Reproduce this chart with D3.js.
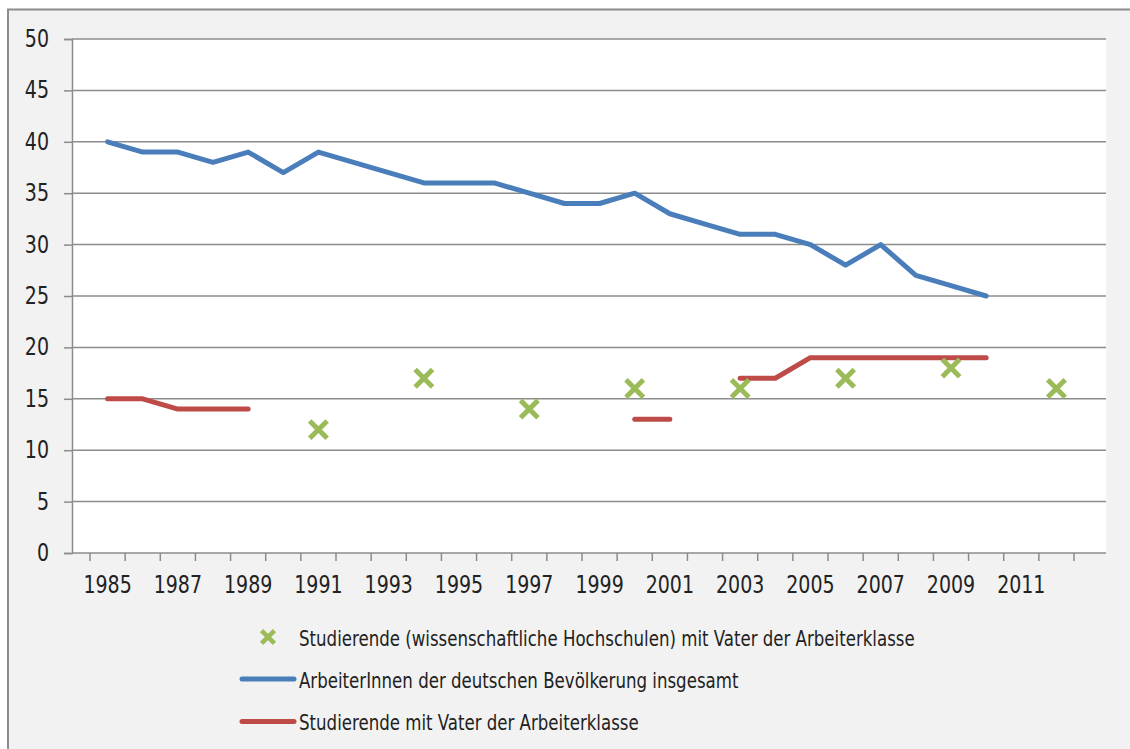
<!DOCTYPE html>
<html>
<head>
<meta charset="utf-8">
<script src="https://cdn.jsdelivr.net/npm/d3@7"></script>
<style>
    body { margin: 0; background: #fff; }
    svg { display: block; }
    text { font-family: "Liberation Sans Narrow", "DejaVu Sans Condensed", sans-serif; fill: #222; }
</style>
</head>
<body>
<svg id="chart"></svg>
<script>
const width = 1130;
const height = 749;

// years on the category axis
const years = d3.range(1985, 2013);

// ArbeiterInnen der deutschen Bevölkerung insgesamt
const workerYears = d3.range(1985, 2011);
const workerValues = [40, 39, 39, 38, 39, 37, 39, 38, 37, 36, 36, 36, 35, 34, 34, 35, 33, 32, 31, 31, 30, 28, 30, 27, 26, 25];

// Studierende mit Vater der Arbeiterklasse (gaps where no data)
const studentYears = [1985, 1986, 1987, 1988, 1989, 2000, 2001, 2003, 2004, 2005, 2006, 2007, 2008, 2009, 2010];
const studentValues = [15, 15, 14, 14, 14, 13, 13, 17, 17, 19, 19, 19, 19, 19, 19];

// Studierende (wissenschaftliche Hochschulen) mit Vater der Arbeiterklasse
const uniYears = [1991, 1994, 1997, 2000, 2003, 2006, 2009, 2012];
const uniValues = [12, 17, 14, 16, 16, 17, 18, 16];

const yTicks = [0, 5, 10, 15, 20, 25, 30, 35, 40, 45, 50];
const legendLabels = [
    "Studierende (wissenschaftliche Hochschulen) mit Vater der Arbeiterklasse",
    "ArbeiterInnen der deutschen Bevölkerung insgesamt",
    "Studierende mit Vater der Arbeiterklasse"
];

const blue = "#4a7ebb";
const red = "#be4b48";
const green = "#9bbb59";
const grey = "#8c8c8c";

const plot = {left: 72, right: 1106, top: 39, bottom: 553};
const squeeze = 0.88; // condensed look of the original font

const svg = d3.select("#chart").attr("width", width).attr("height", height);

// outer panel
svg.append("rect")
    .attr("x", 8).attr("y", 9.5)
    .attr("width", width + 20).attr("height", height + 20)
    .attr("fill", "#f2f2f2")
    .attr("stroke", grey)
    .attr("stroke-width", 2);

svg.append("rect")
    .attr("x", plot.left).attr("y", plot.top)
    .attr("width", plot.right - plot.left).attr("height", plot.bottom - plot.top)
    .attr("fill", "#fff");

const xScale = d3.scaleBand().domain(years).range([90, 1074]).padding(0);
const xCenter = function (year) {
    return xScale(year) + xScale.bandwidth() / 2;
};
const yScale = d3.scaleLinear().domain([0, 50]).range([plot.bottom, plot.top]);

function placeText(x, y) {
    return "translate(" + x + "," + y + ") scale(" + squeeze + ",1)";
}

// grid lines
svg.append("g").selectAll("line").data(yTicks.filter(d => d > 0)).enter()
    .append("line")
    .attr("x1", plot.left).attr("x2", plot.right)
    .attr("y1", d => yScale(d)).attr("y2", d => yScale(d))
    .attr("stroke", grey)
    .attr("stroke-width", 1.5);

// y axis
const yAxis = svg.append("g")
    .attr("transform", "translate(" + plot.left + ",0)")
    .call(d3.axisLeft(yScale).tickValues(yTicks).tickSize(8).tickFormat(""));
yAxis.select(".domain").attr("stroke", grey).attr("stroke-width", 1.5);
yAxis.selectAll(".tick line").attr("stroke", grey).attr("stroke-width", 1.5);

svg.append("g").selectAll("text").data(yTicks).enter()
    .append("text")
    .attr("transform", d => placeText(49, yScale(d) + 8))
    .attr("text-anchor", "end")
    .attr("font-size", 24)
    .text(d => d);

// x axis: ticks between categories, labels every second year
const xAxisG = svg.append("g").attr("transform", "translate(0," + plot.bottom + ")");
xAxisG.append("line")
    .attr("x1", plot.left).attr("x2", plot.right)
    .attr("stroke", grey).attr("stroke-width", 1.5);
const tickPos = years.map(d => xScale(d)).concat([xScale(2012) + xScale.bandwidth()]);
xAxisG.selectAll(".xtick").data(tickPos).enter()
    .append("line")
    .attr("class", "xtick")
    .attr("x1", d => d).attr("x2", d => d)
    .attr("y1", 0).attr("y2", 8)
    .attr("stroke", grey).attr("stroke-width", 1.5);
xAxisG.selectAll(".xlabel").data(years.filter(d => (d - 1985) % 2 === 0)).enter()
    .append("text")
    .attr("class", "xlabel")
    .attr("transform", d => placeText(xCenter(d), 40))
    .attr("text-anchor", "middle")
    .attr("font-size", 24)
    .text(d => d);

// lines
const line = d3.line()
    .defined(d => d.defined)
    .x(d => xCenter(d.year))
    .y(d => yScale(d.value));

const workerData = workerYears.map((y, i) => ({year: y, value: workerValues[i], defined: true}));
const studentData = years.map(function (y) {
    const i = studentYears.indexOf(y);
    return {year: y, value: i >= 0 ? studentValues[i] : 0, defined: i >= 0};
});

svg.append("path")
    .datum(studentData)
    .attr("d", line)
    .attr("fill", "none")
    .attr("stroke", red)
    .attr("stroke-width", 5)
    .attr("stroke-linecap", "round")
    .attr("stroke-linejoin", "round");

svg.append("path")
    .datum(workerData)
    .attr("d", line)
    .attr("fill", "none")
    .attr("stroke", blue)
    .attr("stroke-width", 5)
    .attr("stroke-linecap", "round")
    .attr("stroke-linejoin", "round");

// markers
const xSymbol = d3.symbol().type(d3.symbolX).size(200);
svg.append("g").selectAll("path").data(uniYears).enter()
    .append("path")
    .attr("transform", (d, i) => "translate(" + xCenter(d) + "," + yScale(uniValues[i]) + ")")
    .attr("d", xSymbol)
    .attr("fill", "none")
    .attr("stroke", green)
    .attr("stroke-width", 5);

// legend
const legend = svg.append("g");
legend.append("path")
    .attr("transform", "translate(268,637)")
    .attr("d", d3.symbol().type(d3.symbolX).size(110))
    .attr("fill", "none")
    .attr("stroke", green)
    .attr("stroke-width", 4.5);
legend.append("line")
    .attr("x1", 242).attr("x2", 294).attr("y1", 679).attr("y2", 679)
    .attr("stroke", blue).attr("stroke-width", 5).attr("stroke-linecap", "round");
legend.append("line")
    .attr("x1", 242).attr("x2", 294).attr("y1", 721.5).attr("y2", 721.5)
    .attr("stroke", red).attr("stroke-width", 5).attr("stroke-linecap", "round");
legend.selectAll("text").data(legendLabels).enter()
    .append("text")
    .attr("transform", (d, i) => placeText(299, 646 + i * 42))
    .attr("font-size", 21)
    .text(d => d);
</script>
</body>
</html>
